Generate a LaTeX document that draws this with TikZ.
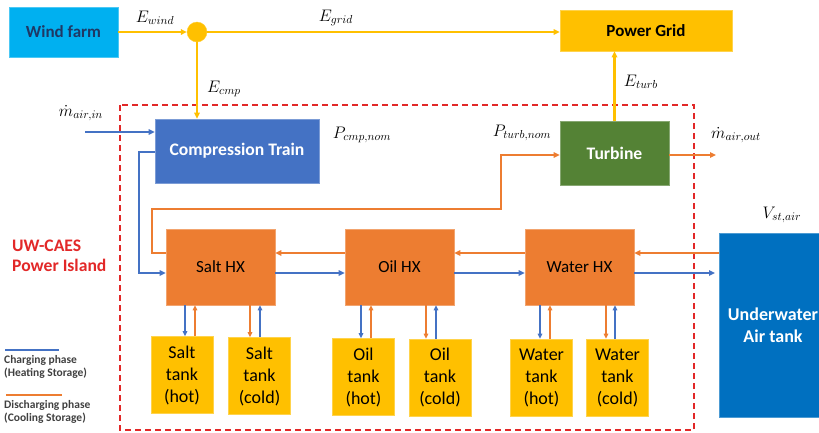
\documentclass[tikz,border=0pt]{standalone}
\usepackage{graphicx}
\usepackage{fontspec}
\setmainfont{Carlito}
\usetikzlibrary{arrows.meta,calc}
\definecolor{cyanbox}{RGB}{0,176,240}
\definecolor{navy}{RGB}{31,56,100}
\definecolor{ygold}{RGB}{255,192,0}
\definecolor{cblue}{RGB}{68,114,196}
\definecolor{corange}{RGB}{237,125,49}
\definecolor{cgreen}{RGB}{84,130,53}
\definecolor{dblue}{RGB}{0,112,192}
\definecolor{cred}{RGB}{226,40,40}
\definecolor{legtext}{RGB}{64,64,64}
\newcommand{\mlabtxt}[1]{\scalebox{1.16}{$#1$}}
\tikzset{
  box/.style={draw=#1!70!white, line width=0.6pt, fill=#1, inner sep=0pt, align=center},
  bigtxt/.style={font=\fontsize{17}{20}\selectfont},
  tanktxt/.style={font=\fontsize{18}{22}\selectfont},
  hx/.style={box=corange, minimum width=109pt, minimum height=76pt, bigtxt},
  tank/.style={box=ygold, minimum width=62pt, minimum height=77pt, tanktxt},
  tip/.style={-{Triangle[length=6pt,width=5.5pt]}},
  yline/.style={draw=ygold, line width=2.4pt, tip},
  bline/.style={draw=cblue, line width=2pt, tip},
  oline/.style={draw=corange, line width=2pt, tip},
  sline/.style={line width=1.6pt, -{Triangle[length=5pt,width=4.5pt]}},
  mlab/.style={font=\fontsize{14.4}{17}\selectfont, inner sep=0pt},
  legend/.style={font=\fontsize{11.5}{13}\selectfont\bfseries, text=legtext, anchor=west, align=left, inner sep=0pt}
}
\begin{document}
\begin{tikzpicture}[x=1pt,y=-1pt]
\useasboundingbox (0,0) rectangle (819,432);

% red dashed power island
\draw[cred, line width=1.4pt, dash pattern=on 6pt off 4pt] (120,105) rectangle (694,430);

% nodes
\node[box=cyanbox, minimum width=109pt, minimum height=50pt, font=\fontsize{17}{20}\selectfont\bfseries, text=navy] (wind) at (63.5,32) {Wind farm};
\node[circle, fill=ygold, draw=ygold!80!white, minimum size=20pt, inner sep=0pt] (junc) at (197,32) {};
\node[box=ygold, minimum width=172pt, minimum height=41pt, font=\fontsize{17}{20}\selectfont\bfseries] (grid) at (646,30.5) {Power Grid};
\node[box=cblue, minimum width=164pt, minimum height=64pt, font=\fontsize{17.6}{20}\selectfont\bfseries, text=white] (comp) at (237,151) {Compression Train};
\node[box=cgreen, minimum width=109pt, minimum height=64pt, font=\fontsize{17.6}{20}\selectfont\bfseries, text=white] (turb) at (614.5,153) {Turbine};

\node[hx] (salthx) at (220.5,267) {Salt HX};
\node[hx] (oilhx) at (399.5,267) {Oil HX};
\node[hx] (waterhx) at (579.5,267) {Water HX};

\node[box=dblue, minimum width=108pt, minimum height=184pt, font=\fontsize{18}{22}\selectfont\bfseries, text=white] (uwt) at (773,325) {Underwater\\Air tank};

\node[tank] (salthot) at (182,375) {Salt\\tank\\(hot)};
\node[tank] (saltcold) at (259.5,376) {Salt\\tank\\(cold)};
\node[tank] (oilhot) at (363.5,377) {Oil\\tank\\(hot)};
\node[tank] (oilcold) at (440,377.5) {Oil\\tank\\(cold)};
\node[tank] (waterhot) at (541.5,377.5) {Water\\tank\\(hot)};
\node[tank] (watercold) at (617.5,377.5) {Water\\tank\\(cold)};

% free-end coordinates
\coordinate (ain) at (85,132);
\coordinate (aout) at (716,155);
\coordinate (o1) at (152,209);
\coordinate (o2) at (501,209);
\coordinate (bturn) at (139,152);
\coordinate (bout) at (715,273);

% yellow energy lines
\draw[yline] (wind.east) -- (junc.west);
\draw[yline] (junc.east) -- (junc.east -| grid.west);
\draw[yline] (junc.south) -- (junc.south |- comp.north);
\draw[yline] (turb.north) -- (turb.north |- grid.south);

% air in / out
\draw[bline] (ain) -- (ain -| comp.west);
\draw[oline] ([yshift=-2pt]turb.east) -- (aout);

% blue from compressor to salt HX
\draw[bline] (comp.west |- bturn) -- (bturn) |- ([yshift=-6pt]salthx.west);
% orange loop salt HX to turbine
\draw[oline] ([yshift=14pt]salthx.west) -| (o1) -- (o2) |- ([yshift=-2pt]turb.west);

% HX chain
\draw[oline] ([yshift=14pt]oilhx.west) -- ([yshift=14pt]salthx.east);
\draw[bline] ([yshift=-6pt]salthx.east) -- ([yshift=-6pt]oilhx.west);
\draw[oline] ([yshift=14pt]waterhx.west) -- ([yshift=14pt]oilhx.east);
\draw[bline] ([yshift=-6pt]oilhx.east) -- ([yshift=-6pt]waterhx.west);
\draw[oline] ([yshift=14pt]waterhx.east -| uwt.west) -- ([yshift=14pt]waterhx.east);
\draw[bline] ([yshift=-6pt]waterhx.east) -- (bout);

% tank connections
\foreach \hxn/\hot/\cold/\a/\b/\c/\d in {salthx/salthot/saltcold/-35.5/-25.5/29.5/39.5,
  oilhx/oilhot/oilcold/-38.5/-28.5/26.5/36.5,
  waterhx/waterhot/watercold/-39.5/-29.5/26.5/35.5}{
  \draw[sline, draw=cblue] ([xshift=\a pt]\hxn.south) coordinate (t1) -- (t1 |- \hot.north);
  \draw[sline, draw=corange] ([xshift=\b pt]\hxn.south |- \hot.north) -- ([xshift=\b pt]\hxn.south);
  \draw[sline, draw=corange] ([xshift=\c pt]\hxn.south) coordinate (t2) -- (t2 |- \cold.north);
  \draw[sline, draw=cblue] ([xshift=\d pt]\hxn.south |- \cold.north) -- ([xshift=\d pt]\hxn.south);
}

% math labels
\node[mlab] (lwind) at (155,18) {\mlabtxt{E_{wind}}};
\node[mlab] (lgrid) at (336,18) {\mlabtxt{E_{grid}}};
\node[mlab] (lcmp) at (224,89) {\mlabtxt{E_{cmp}}};
\node[mlab] (lturb) at (641,82) {\mlabtxt{E_{turb}}};
\node[mlab] (lain) at (81,113) {\mlabtxt{\dot{m}_{air,in}}};
\node[mlab] (lpcmp) at (362,135) {\mlabtxt{P_{cmp,nom}}};
\node[mlab] (lpturb) at (522,133) {\mlabtxt{P_{turb,nom}}};
\node[mlab] (laout) at (736,135) {\mlabtxt{\dot{m}_{air,out}}};
\node[mlab] (lvst) at (782,215) {\mlabtxt{V_{st,air}}};

% island label
\node[font=\fontsize{17.6}{20.5}\selectfont\bfseries, text=cred, anchor=west, align=left, inner sep=0pt] (island) at (12,256) {UW-CAES\\Power Island};

% legend
\coordinate (lb1) at (5,350);
\coordinate (lb2) at (59,350);
\coordinate (lo1) at (6,395);
\coordinate (lo2) at (62,395);
\draw[cblue, line width=2pt] (lb1) -- (lb2);
\draw[corange, line width=2pt] (lo1) -- (lo2);
\node[legend] (lcharge) at (4,367) {Charging phase\\(Heating Storage)};
\node[legend] (ldis) at (4,412) {Discharging phase\\(Cooling Storage)};
\end{tikzpicture}
\end{document}
